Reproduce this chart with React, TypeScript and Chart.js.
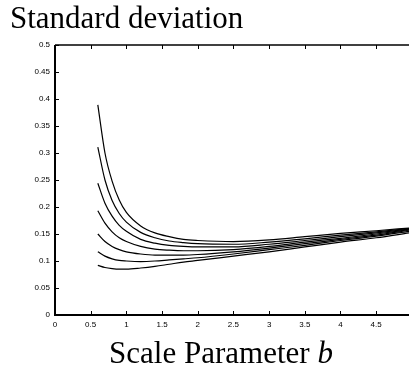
import React, { useEffect, useRef } from "react";
import { Chart, registerables } from "chart.js";

Chart.register(...registerables);

const TITLE = "Standard deviation";
const X_LABEL = "Scale Parameter ";
const X_LABEL_ITALIC = "b";

const bValues = [0.6, 0.7, 0.8, 0.9, 1.0, 1.2, 1.4, 1.6, 1.8, 2.0, 2.5, 3.0, 3.5, 4.0, 4.5, 4.96];

const curve1 = [0.389, 0.3, 0.248, 0.213, 0.19, 0.165, 0.152, 0.145, 0.14, 0.138, 0.136, 0.139, 0.145, 0.151, 0.156, 0.161];
const curve2 = [0.311, 0.25, 0.212, 0.188, 0.172, 0.153, 0.143, 0.137, 0.134, 0.132, 0.131, 0.135, 0.141, 0.148, 0.154, 0.16];
const curve3 = [0.244, 0.207, 0.183, 0.166, 0.155, 0.14, 0.133, 0.129, 0.127, 0.126, 0.126, 0.131, 0.138, 0.145, 0.152, 0.159];
const curve4 = [0.193, 0.17, 0.154, 0.143, 0.136, 0.127, 0.122, 0.12, 0.119, 0.119, 0.121, 0.127, 0.135, 0.142, 0.15, 0.158];
const curve5 = [0.15, 0.136, 0.127, 0.121, 0.117, 0.113, 0.111, 0.111, 0.111, 0.112, 0.117, 0.124, 0.132, 0.14, 0.148, 0.157];
const curve6 = [0.117, 0.109, 0.104, 0.101, 0.1, 0.099, 0.1, 0.102, 0.104, 0.106, 0.113, 0.121, 0.129, 0.138, 0.146, 0.155];
const curve7 = [0.092, 0.088, 0.086, 0.085, 0.085, 0.087, 0.09, 0.094, 0.098, 0.101, 0.109, 0.117, 0.126, 0.135, 0.143, 0.152];

const curves = [curve1, curve2, curve3, curve4, curve5, curve6, curve7];

const xTicks = [0, 0.5, 1, 1.5, 2, 2.5, 3, 3.5, 4, 4.5];
const yTicks = [0, 0.05, 0.1, 0.15, 0.2, 0.25, 0.3, 0.35, 0.4, 0.45, 0.5];

const framePlugin = {
  id: "frame",
  afterDraw(chart: any) {
    const { ctx, chartArea, scales } = chart;
    const { left, right, top, bottom } = chartArea;
    const xs = scales.x;
    const ys = scales.y;
    ctx.save();
    ctx.strokeStyle = "#000";
    // frame
    ctx.lineWidth = 2;
    ctx.beginPath();
    ctx.moveTo(left, top);
    ctx.lineTo(left, bottom);
    ctx.lineTo(right, bottom);
    ctx.stroke();
    ctx.lineWidth = 1.5;
    ctx.beginPath();
    ctx.moveTo(left, top);
    ctx.lineTo(right, top);
    ctx.stroke();
    // inward ticks
    ctx.lineWidth = 1;
    ctx.beginPath();
    const tl = 4;
    for (const v of xTicks) {
      const px = Math.round(xs.getPixelForValue(v)) + 0.5;
      ctx.moveTo(px, bottom);
      ctx.lineTo(px, bottom - tl);
      ctx.moveTo(px, top);
      ctx.lineTo(px, top + tl);
    }
    for (const v of yTicks) {
      const py = Math.round(ys.getPixelForValue(v)) + 0.5;
      ctx.moveTo(left, py);
      ctx.lineTo(left + tl, py);
    }
    ctx.stroke();
    // titles
    ctx.fillStyle = "#000";
    ctx.textBaseline = "alphabetic";
    ctx.textAlign = "left";
    ctx.font = '31px "Liberation Serif", "Times New Roman", serif';
    ctx.fillText(TITLE, 10, 28);
    const normalFont = '31px "Liberation Serif", "Times New Roman", serif';
    const italicFont = 'italic 31px "Liberation Serif", "Times New Roman", serif';
    ctx.font = normalFont;
    const w1 = ctx.measureText(X_LABEL).width;
    ctx.font = italicFont;
    const w2 = ctx.measureText(X_LABEL_ITALIC).width;
    const total = w1 + w2;
    const cx = 221;
    const startX = cx - total / 2;
    ctx.font = normalFont;
    ctx.fillText(X_LABEL, startX, 363);
    ctx.font = italicFont;
    ctx.fillText(X_LABEL_ITALIC, startX + w1, 363);
    ctx.restore();
  },
};

export default function App() {
  const ref = useRef<HTMLCanvasElement | null>(null);

  useEffect(() => {
    if (!ref.current) return;
    const chart = new Chart(ref.current, {
      type: "line",
      data: {
        datasets: curves.map((c) => ({
          data: bValues.map((b, i) => ({ x: b, y: c[i] })),
          borderColor: "#000",
          borderWidth: 1.2,
          pointRadius: 0,
          fill: false,
          cubicInterpolationMode: "monotone" as const,
        })),
      },
      options: {
        animation: false,
        responsive: false,
        devicePixelRatio: 1,
        layout: { padding: { top: 45, left: 0, right: 0, bottom: 0 } },
        plugins: {
          legend: { display: false },
          tooltip: { enabled: false },
          title: { display: false },
        },
        scales: {
          x: {
            type: "linear",
            min: 0,
            max: 4.96,
            afterBuildTicks: (scale: any) => {
              scale.ticks = xTicks.map((v) => ({ value: v }));
            },
            afterFit: (scale: any) => {
              scale.height = 59;
            },
            grid: { display: false, drawTicks: false },
            border: { display: false },
            ticks: {
              autoSkip: false,
              maxRotation: 0,
              padding: 5,
              color: "#000",
              font: { family: '"Liberation Sans", Arial, sans-serif', size: 8 },
              callback: (v: any) => String(v),
            },
          },
          y: {
            type: "linear",
            min: 0,
            max: 0.5,
            afterBuildTicks: (scale: any) => {
              scale.ticks = yTicks.map((v) => ({ value: v }));
            },
            afterFit: (scale: any) => {
              scale.width = 55;
            },
            grid: { display: false, drawTicks: false },
            border: { display: false },
            ticks: {
              autoSkip: false,
              padding: 5,
              color: "#000",
              font: { family: '"Liberation Sans", Arial, sans-serif', size: 8 },
              callback: (v: any) => String(v),
            },
          },
        },
      },
      plugins: [framePlugin],
    });
    return () => chart.destroy();
  }, []);

  return (
    <div style={{ position: "fixed", left: 0, top: 0, width: 409, height: 374, background: "#fff" }}>
      <canvas ref={ref} width={409} height={374} style={{ display: "block", width: 409, height: 374 }} />
    </div>
  );
}
